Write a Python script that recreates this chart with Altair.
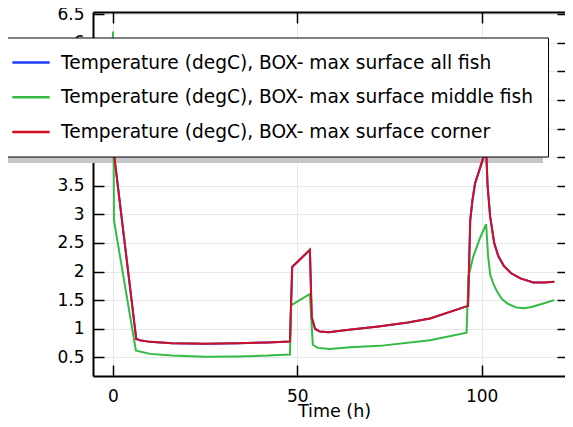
import altair as alt
import pandas as pd

S_ALL = "Temperature (degC), BOX- max surface all fish"
S_MID = "Temperature (degC), BOX- max surface middle fish"
S_COR = "Temperature (degC), BOX- max surface corner"

# corner (and "all fish", which coincides with it)
t_corner = [0, 6.3, 7.3, 10, 16, 25, 34, 42, 48.0, 48.6, 53.4, 53.9, 54.8, 56.1, 58.5,
            64, 72, 80, 86, 96.3, 96.9, 97.5, 98.2, 99.5, 101.2, 101.6, 102.3, 103.4,
            104.5, 106, 108, 110.5, 114, 117, 119.7]
v_corner = [4.2, 0.82, 0.80, 0.77, 0.745, 0.735, 0.745, 0.76, 0.775, 2.08, 2.38, 1.2, 1.0, 0.95, 0.94,
            0.98, 1.04, 1.11, 1.18, 1.40, 2.9, 3.25, 3.54, 3.8, 4.15, 3.5, 2.96, 2.5,
            2.27, 2.1, 1.97, 1.88, 1.81, 1.81, 1.82]

t_middle = [0, 0.25, 6.2, 7.3, 10, 16, 25, 34, 42, 48.0, 48.3, 53.4, 54.2, 55.5, 58.8,
            64.3, 72.4, 86, 95.9, 96.4, 97.7, 99.5, 101.2, 101.7, 102.3, 103.2, 104.1,
            105.5, 107, 109.5, 111.5, 113.5, 116.7, 119.7]
v_middle = [6.2, 2.9, 0.62, 0.60, 0.56, 0.53, 0.51, 0.515, 0.53, 0.55, 1.41, 1.61, 0.72, 0.665, 0.645,
            0.675, 0.70, 0.80, 0.93, 1.91, 2.26, 2.58, 2.83, 2.3, 1.95, 1.78, 1.66,
            1.52, 1.44, 1.37, 1.36, 1.38, 1.44, 1.50]

x_ticks = [0, 50, 100]
y_ticks = [0.5, 1, 1.5, 2, 2.5, 3, 3.5, 4, 4.5, 5, 5.5, 6, 6.5]

series_names = [S_ALL, S_MID, S_COR]
series_colors = ["#1c3cff", "#33bb44", "#d01020"]

rows = []
for t, v in zip(t_corner, v_corner):
    rows.append({"t": t, "v": v, "series": S_ALL})
for t, v in zip(t_middle, v_middle):
    rows.append({"t": t, "v": v, "series": S_MID})
for t, v in zip(t_corner, v_corner):
    rows.append({"t": t, "v": v, "series": S_COR})
df = pd.DataFrame(rows)

FONT = "DejaVu Sans"
xs = alt.Scale(domain=[-5.43, 122.6], nice=False, zero=False)
ys = alt.Scale(domain=[0.173, 6.54], nice=False, zero=False)
cs = alt.Scale(domain=series_names, range=series_colors)

legend = alt.Legend(
    orient="none", legendX=-87, legendY=25.5, title=None,
    fillColor="white", strokeColor="black", padding=15,
    labelFont=FONT, labelFontSize=18.6, labelColor="black", labelLimit=800,
    symbolType="M-2.2,0H2.2", symbolSize=289, symbolStrokeWidth=2.5,
    labelOffset=20, rowPadding=14.7, cornerRadius=0,
)

ax_x_main = alt.Axis(orient="bottom", values=x_ticks, ticks=False, domain=True,
                     domainColor="black", domainWidth=2, grid=True, gridColor="#e8e8e8",
                     labelFont=FONT, labelFontSize=17, labelColor="black", labelPadding=12,
                     title="Time (h)", titleFont=FONT, titleFontSize=17.5,
                     titleFontWeight="normal", titleColor="black",
                     titleBaseline="alphabetic", titleY=40, titleX=241, titleAlign="center")
ax_y_main = alt.Axis(orient="left", values=y_ticks, ticks=False, domain=True,
                     domainColor="black", domainWidth=2, grid=True, gridColor="#e8e8e8",
                     labelFont=FONT, labelFontSize=17, labelColor="black", labelPadding=9,
                     format="~g", title=None)


def tick_axis(orient, values, offset=-11, size=11, domain=False, ticks=True):
    return alt.Axis(orient=orient, values=values, ticks=ticks, tickSize=size, tickColor="black",
                    tickWidth=1.5, labels=False, domain=domain, domainColor="black",
                    domainWidth=2, grid=False, title=None, offset=offset)


def line_layer(name, with_axes):
    return alt.Chart(df).transform_filter(alt.datum.series == name).mark_line(
        strokeWidth=2).encode(
        x=alt.X("t:Q", scale=xs, axis=ax_x_main if with_axes else None),
        y=alt.Y("v:Q", scale=ys, axis=ax_y_main if with_axes else None),
        color=alt.Color("series:N", scale=cs, legend=legend),
    )


shadow = alt.Chart(pd.DataFrame({"k": [0]})).mark_rect(color="#c6c6c6").encode(
    x=alt.value(-100), x2=alt.value(450), y=alt.value(33), y2=alt.value(151))

ticks_bl = alt.Chart(df).mark_point(opacity=0).encode(
    x=alt.X("t:Q", scale=xs, axis=tick_axis("bottom", x_ticks)),
    y=alt.Y("v:Q", scale=ys, axis=tick_axis("left", y_ticks)),
)
ticks_tr = alt.Chart(df).mark_point(opacity=0).encode(
    x=alt.X("t:Q", scale=xs, axis=tick_axis("top", x_ticks, offset=0, domain=True, ticks=False)),
    y=alt.Y("v:Q", scale=ys, axis=tick_axis("right", y_ticks, offset=-8, size=8)),
)
ticks_t = alt.Chart(df).mark_point(opacity=0).encode(
    x=alt.X("t:Q", scale=xs, axis=tick_axis("top", x_ticks)),
    y=alt.Y("v:Q", scale=ys, axis=None),
)

chart = alt.layer(
    shadow,
    line_layer(S_ALL, True),
    line_layer(S_MID, False),
    line_layer(S_COR, False),
    ticks_bl, ticks_tr, ticks_t,
).resolve_axis(x="independent", y="independent").properties(
    width=472, height=364,
    autosize=alt.AutoSizeParams(type="none"),
    padding={"left": 85, "top": 4, "right": 0, "bottom": 43},
).configure_view(stroke=None)

chart.save("out.html", embed_options={"renderer": "svg", "actions": False})
